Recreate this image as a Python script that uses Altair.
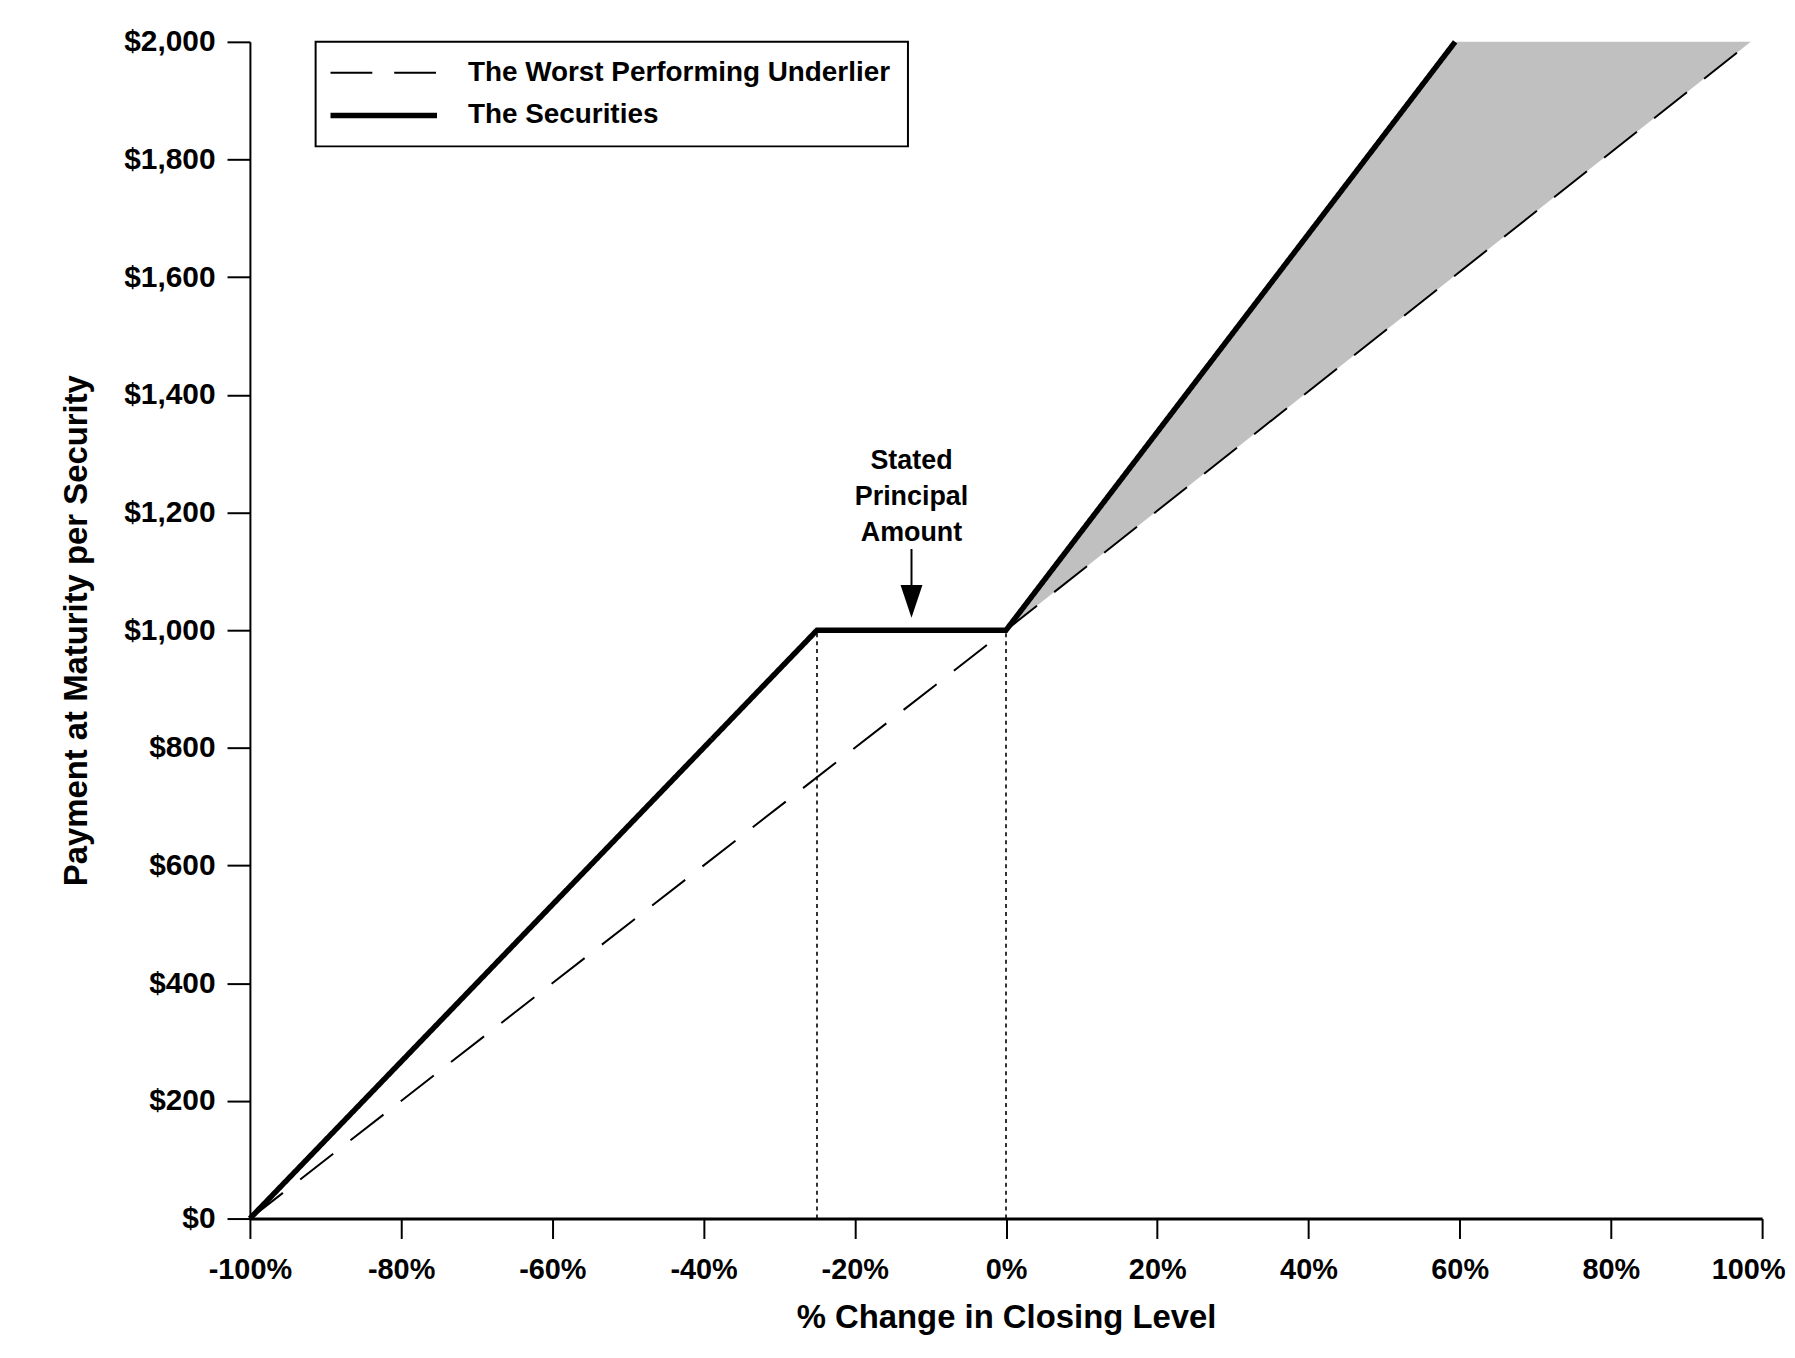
import altair as alt
import pandas as pd

FONT = "Liberation Sans"

# ---- data ----
series_names = ["The Worst Performing Underlier", "The Securities"]
under_x = [-100, 0, 98.5]
under_y = [0, 1000, 2000]
sec_x = [-100, -25, 0, 59.4]
sec_y = [0, 1000, 1000, 2000]

shade_x = [0, 59.4, 98.5]
shade_top = [1000, 2000, 2000]
shade_bottom = [1000, 1603, 2000]

guide_x = [-25, 0]
guide_bottom = [0, 0]
guide_top = [1000, 1000]

arrow_x = [-12.5]
arrow_top = [1138]
arrow_head = [1049]

label_lines = ["Stated", "Principal", "Amount"]
label_x = [-12.5]
label_y = [1287]

x_ticks = [-100, -80, -60, -40, -20, 0, 20, 40, 60, 80, 100]
y_ticks = [0, 200, 400, 600, 800, 1000, 1200, 1400, 1600, 1800, 2000]

# ---- tables ----
lines_df = pd.concat([
    pd.DataFrame({"x": under_x, "y": under_y, "series": series_names[0]}),
    pd.DataFrame({"x": sec_x, "y": sec_y, "series": series_names[1]}),
], ignore_index=True)
shade_df = pd.DataFrame({"x": shade_x, "y": shade_top, "y2": shade_bottom})
guide_df = pd.DataFrame({"x": guide_x, "y": guide_bottom, "y2": guide_top})
arrow_df = pd.DataFrame({"x": arrow_x, "y": arrow_top, "y2": arrow_head})
head_df = pd.DataFrame({"x": arrow_x, "y": arrow_head})
label_df = pd.DataFrame({"x": label_x, "y": label_y, "t": ["\n".join(label_lines)]})

xscale = alt.Scale(domain=[-100, 100], nice=False, zero=False)
yscale = alt.Scale(domain=[0, 2000], nice=False, zero=False)

xaxis = alt.Axis(values=x_ticks, labelExpr="datum.value + '%'", grid=False,
                 tickSize=20, tickWidth=2, tickColor="black",
                 domainColor="black", domainWidth=3,
                 labelFont=FONT, labelFontSize=29, labelFontWeight="bold",
                 labelColor="black", labelPadding=17,
                 labelOffset={"condition": {"test": "datum.value === 100", "value": -14},
                              "value": 0},
                 titleFont=FONT, titleFontSize=33, titleFontWeight="bold",
                 titleColor="black", titlePadding=17, labelFlush=False)
yaxis = alt.Axis(values=y_ticks, format="$,.0f", grid=False,
                 tickSize=23, tickWidth=2, tickColor="black",
                 domainColor="black", domainWidth=2,
                 labelFont=FONT, labelFontSize=30, labelFontWeight="bold",
                 labelColor="black", labelPadding=12,
                 titleFont=FONT, titleFontSize=33, titleFontWeight="bold",
                 titleColor="black", titlePadding=30, labelFlush=False)

XT = "% Change in Closing Level"
YT = "Payment at Maturity per Security"


def X(f="x"):
    return alt.X(f"{f}:Q", scale=xscale, axis=xaxis, title=XT)


def Y(f="y"):
    return alt.Y(f"{f}:Q", scale=yscale, axis=yaxis, title=YT)


leg = alt.Legend(title=None, orient="none", legendX=66, legendY=0,
                 symbolType="M-1.5,0H8.5", symbolSize=458,
                 symbolStrokeColor="black",
                 labelFont=FONT, labelFontSize=28, labelFontWeight="bold",
                 labelColor="black", labelOffset=108, labelLimit=800,
                 strokeColor="black", fillColor="white", padding=17,
                 rowPadding=15)

shade = alt.Chart(shade_df).mark_area(color="#c0c0c0", opacity=1).encode(
    x=X(), y=Y(), y2="y2:Q")

guides = alt.Chart(guide_df).mark_rule(color="black", strokeWidth=1.6,
                                        strokeDash=[4, 4]).encode(
    x=X(), y=Y(), y2="y2:Q")

lines = alt.Chart(lines_df).mark_line(color="black").encode(
    x=X(), y=Y(),
    strokeDash=alt.StrokeDash("series:N",
                              scale=alt.Scale(domain=series_names,
                                              range=[[42, 22], [1, 0]]),
                              legend=leg),
    strokeWidth=alt.StrokeWidth("series:N",
                                scale=alt.Scale(domain=series_names, range=[2, 5.5]),
                                legend=leg),
)

shaft = alt.Chart(arrow_df).mark_rule(color="black", strokeWidth=2).encode(
    x=X(), y=Y(), y2="y2:Q")

head = alt.Chart(head_df).mark_point(shape="M-1,-1.5L1,-1.5L0,1.5Z", size=484,
                                     filled=True, color="black", opacity=1).encode(
    x=X(), y=Y())

label = alt.Chart(label_df).mark_text(font=FONT, fontSize=27, fontWeight="bold",
                                      lineBreak="\n", lineHeight=36,
                                      align="center", baseline="middle",
                                      color="black").encode(
    x=X(), y=Y(), text="t:N")

chart = alt.layer(shade, guides, lines, shaft, head, label).properties(
    width=1519, height=1182,
    padding={"left": 243, "top": 31, "right": 25, "bottom": 120},
    autosize=alt.AutoSizeParams(type="none"),
).configure_view(stroke=None).configure_legend(strokeWidth=2)

chart.save("out.html", embed_options={"renderer": "svg", "actions": False})
